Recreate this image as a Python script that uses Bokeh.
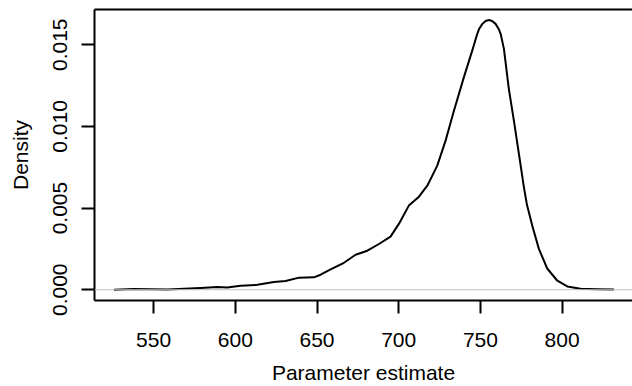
from bokeh.plotting import figure
from bokeh.models import Range1d, FixedTicker, LinearAxis, Span, NumeralTickFormatter
from bokeh.embed import file_html
from bokeh.resources import INLINE

# Density curve
x_vals = [525.7, 538.0, 558.4, 578.8, 589.0, 595.0, 603.2, 613.5, 623.6, 630.8,
          639.0, 648.1, 652.2, 658.3, 666.5, 673.6, 680.8, 687.9, 695.0, 700.1,
          706.2, 712.4, 717.5, 723.6, 728.7, 733.8, 740.0, 745.0, 748.1, 749.2,
          751.2, 753.2, 755.2, 757.2, 759.3, 761.2, 762.4, 764.4, 767.4, 770.5,
          773.6, 776.6, 778.5, 781.8, 785.8, 790.9, 797.1, 803.2, 811.3, 821.5,
          831.7]
density = [0.0, 0.00004, 0.00002, 0.0001, 0.00016, 0.00014, 0.00025, 0.0003, 0.00047, 0.00053,
           0.00074, 0.00076, 0.00092, 0.00124, 0.00165, 0.00214, 0.00239, 0.0028, 0.00325, 0.00403,
           0.00515, 0.0057, 0.00637, 0.0076, 0.00913, 0.01096, 0.01305, 0.01464, 0.01567, 0.01597,
           0.01628, 0.01646, 0.01652, 0.01646, 0.01628, 0.01597, 0.01567, 0.01475, 0.0123, 0.01035,
           0.0083, 0.0063, 0.0052, 0.0039, 0.0025, 0.0013, 0.00055, 0.0002, 0.00006, 0.00003,
           0.00002]
x_ticks = [550, 600, 650, 700, 750, 800]
y_ticks = [0.0, 0.005, 0.010, 0.015]
x_label = "Parameter estimate"
y_label = "Density"

FONT = "Liberation Sans"
FS = "21px"

p = figure(width=632, height=386, output_backend="svg", toolbar_location=None,
           x_range=Range1d(513.8, 843.1), y_range=Range1d(-0.00066, 0.01716),
           min_border_left=94, min_border_top=9, min_border_bottom=86, min_border_right=0,
           x_axis_label=x_label, y_axis_label=y_label)
p.outline_line_color = None
p.grid.grid_line_color = None
p.background_fill_color = "white"
p.border_fill_color = "white"

p.add_layout(Span(location=0, dimension="width", line_color="#BEBEBE", line_width=1))
p.line(x_vals, density, line_color="black", line_width=2, line_join="round")

for ax in (p.xaxis[0], p.yaxis[0]):
    ax.axis_line_width = 2
    ax.axis_line_color = "black"
    ax.major_tick_line_width = 2
    ax.major_tick_in = 0
    ax.major_tick_out = 13
    ax.minor_tick_line_color = None
    ax.major_label_text_font = FONT
    ax.major_label_text_font_size = FS
    ax.major_label_text_color = "black"
    ax.axis_label_text_font = FONT
    ax.axis_label_text_font_size = FS
    ax.axis_label_text_font_style = "normal"
    ax.axis_label_text_color = "black"

p.xaxis.ticker = FixedTicker(ticks=x_ticks)
p.yaxis.ticker = FixedTicker(ticks=y_ticks)
p.yaxis.formatter = NumeralTickFormatter(format="0.000")
p.yaxis.major_label_orientation = "vertical"
p.xaxis.major_label_standoff = 19
p.xaxis.axis_label_standoff = 11
p.yaxis.major_label_standoff = 14
p.yaxis.axis_label_standoff = 19

top = LinearAxis(ticker=FixedTicker(ticks=[]), axis_line_width=2, axis_line_color="black",
                 major_tick_line_color=None, minor_tick_line_color=None,
                 major_label_text_font_size="0px", major_label_standoff=0)
p.add_layout(top, "above")

open("out.html", "w").write(file_html(p, INLINE))
